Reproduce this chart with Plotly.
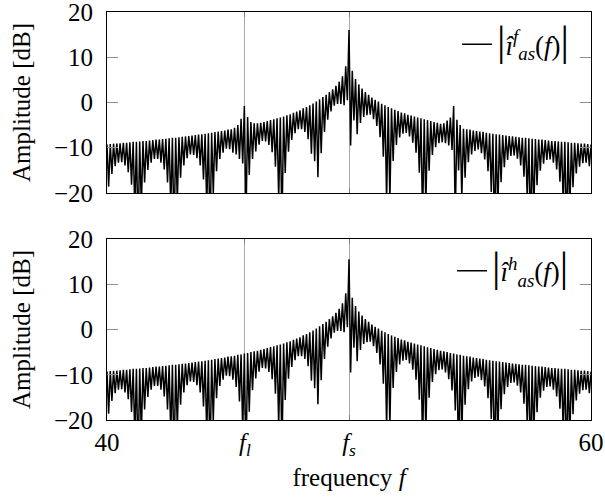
import numpy as np
import plotly.graph_objects as go

# frequency bins of the plotted spectrum
f_start, f_stop, n_bins = 40.0, 60.0, 297
freq = np.linspace(f_start, f_stop, n_bins)

f_l, f_s = 45.7, 50.0
x_tick_vals = [40, f_l, f_s, 60]
x_tick_text = ["40", "<i>f</i><sub><i>l</i></sub>", "<i>f</i><sub><i>s</i></sub>", "60"]
y_tick_vals = [-20, -10, 0, 10, 20]
y_tick_text = ["\u221220", "\u221210", "0", "10", "20"]

# upper (local maxima) and lower (local minima) samples of |i_as^h(f)| in dB
peaks_h = [
    -9.3, -9.2, -9.1, -9.1, -9.0, -8.9, -8.9, -8.8, -8.7, -8.7,
    -8.6, -8.5, -8.5, -8.4, -8.3, -8.2, -8.2, -8.1, -8.0, -7.9,
    -7.8, -7.8, -7.7, -7.6, -7.5, -7.4, -7.3, -7.2, -7.1, -7.0,
    -6.9, -6.8, -6.7, -6.5, -6.4, -6.3, -6.2, -6.0, -5.9, -5.8,
    -5.6, -5.5, -5.3, -5.2, -5.0, -4.8, -4.7, -4.5, -4.3, -4.1,
    -3.9, -3.7, -3.5, -3.3, -3.1, -2.8, -2.6, -2.3, -2.0, -1.7,
    -1.3, -1.0, -0.6, -0.2, 0.2, 0.7, 1.2, 1.7, 2.3, 2.9,
    3.7, 4.6, 5.8, 8.0, 15.5,
    7.0, 5.2, 4.0, 3.1, 2.3, 1.7, 1.1, 0.6, 0.2, -0.3,
    -0.6, -1.0, -1.3, -1.6, -1.9, -2.2, -2.4, -2.7, -2.9, -3.1,
    -3.3, -3.5, -3.7, -3.9, -4.1, -4.3, -4.5, -4.7, -4.8, -5.0,
    -5.2, -5.3, -5.5, -5.6, -5.8, -5.9, -6.0, -6.2, -6.3, -6.4,
    -6.5, -6.7, -6.8, -6.9, -7.0, -7.1, -7.2, -7.3, -7.4, -7.5,
    -7.6, -7.7, -7.8, -7.8, -7.9, -8.0, -8.1, -8.2, -8.2, -8.3,
    -8.4, -8.5, -8.5, -8.6, -8.7, -8.7, -8.8, -8.9, -8.9, -9.0,
    -9.1, -9.1, -9.2, -9.3,
]
dips_h = [
    -18.6, -15.8, -14.1, -13.3, -13.2, -13.9, -15.4, -18.2, -23.9, -30.0,
    -23.3, -17.7, -14.9, -13.3, -12.5, -12.5, -13.3, -14.8, -17.7, -23.7,
    -30.0, -21.9, -16.6, -13.9, -12.3, -11.5, -11.6, -12.3, -13.9, -17.0,
    -23.4, -30.0, -20.2, -15.2, -12.5, -11.1, -10.2, -10.3, -11.1, -12.7,
    -15.9, -22.7, -30.0, -18.2, -13.4, -10.8, -9.3, -8.5, -8.6, -9.4,
    -11.0, -14.2, -21.5, -28.2, -15.6, -10.9, -8.3, -6.8, -5.9, -5.9,
    -6.5, -8.1, -11.3, -13.0, -16.5, -11.2, -6.5, -3.8, -2.0, -0.7,
    -0.3, -0.3, -0.6, 0.5, -9.5, -4.0, -7.0, -4.5, -3.2, -2.8,
    -2.7, -3.7, -5.2, -7.7, -12.0, -22.0, -21.7, -12.9, -9.4, -7.7,
    -6.9, -6.7, -7.5, -8.9, -11.1, -15.5, -26.2, -23.2, -15.1, -11.6,
    -9.9, -9.0, -8.8, -9.5, -11.0, -13.5, -17.9, -29.8, -24.2, -16.6,
    -13.2, -11.5, -10.7, -10.4, -11.2, -12.6, -15.2, -19.8, -30.0, -24.7,
    -17.6, -14.3, -12.7, -11.8, -11.7, -12.4, -13.9, -16.4, -21.3, -30.0,
    -24.9, -18.3, -15.1, -13.5, -12.7, -12.6, -13.3, -14.8, -17.5, -22.6,
    -30.0, -25.0, -18.7, -15.7, -14.2, -13.4, -13.3, -14.1,
]

# upper and lower samples of |i_as^f(f)| in dB (with side bands)
peaks_f = [
    -9.3, -9.2, -9.1, -9.1, -9.0, -8.9, -8.9, -8.8, -8.7, -8.7,
    -8.6, -8.5, -8.5, -8.4, -8.3, -8.2, -8.2, -8.1, -8.0, -7.9,
    -7.8, -7.8, -7.7, -7.6, -7.5, -7.4, -7.3, -7.2, -7.1, -7.0,
    -6.9, -6.8, -6.7, -6.5, -6.4, -6.3, -6.2, -6.0, -5.9, -5.6,
    -5.0, -3.6, -0.8, -3.2, -4.3, -4.6, -4.6, -4.5, -4.3, -4.1,
    -3.9, -3.7, -3.5, -3.3, -3.1, -2.8, -2.6, -2.3, -2.0, -1.7,
    -1.3, -1.0, -0.6, -0.2, 0.2, 0.7, 1.2, 1.7, 2.3, 2.9,
    3.7, 4.6, 5.8, 8.0, 16.0,
    7.0, 5.2, 4.0, 3.1, 2.3, 1.7, 1.1, 0.6, 0.2, -0.3,
    -0.6, -1.0, -1.3, -1.6, -1.9, -2.2, -2.4, -2.7, -2.9, -3.1,
    -3.3, -3.5, -3.7, -3.9, -4.1, -4.3, -4.5, -4.7, -4.6, -4.0,
    -3.3, -0.8, -3.8, -5.0, -5.8, -5.9, -6.0, -6.2, -6.3, -6.4,
    -6.5, -6.7, -6.8, -6.9, -7.0, -7.1, -7.2, -7.3, -7.4, -7.5,
    -7.6, -7.7, -7.8, -7.8, -7.9, -8.0, -8.1, -8.2, -8.2, -8.3,
    -8.4, -8.5, -8.5, -8.6, -8.7, -8.7, -8.8, -8.9, -8.9, -9.0,
    -9.1, -9.1, -9.2, -9.3,
]
dips_f = [
    -18.6, -15.8, -14.1, -13.3, -13.2, -13.9, -15.4, -18.2, -23.9, -30.0,
    -23.3, -17.7, -14.9, -13.3, -12.5, -12.5, -13.3, -14.8, -17.7, -23.7,
    -30.0, -21.9, -16.6, -13.9, -12.3, -11.5, -11.6, -12.3, -13.9, -17.0,
    -23.4, -30.0, -20.2, -15.2, -12.5, -11.1, -10.2, -10.3, -11.1, -11.5,
    -12.5, -13.5, -26.0, -16.0, -12.5, -10.8, -9.3, -8.5, -8.6, -9.4,
    -11.0, -14.2, -21.5, -28.2, -15.6, -10.9, -8.3, -6.8, -5.9, -5.9,
    -6.5, -8.1, -11.3, -13.0, -16.5, -11.2, -6.5, -3.8, -2.0, -0.7,
    -0.3, -0.3, -0.6, 0.5, -9.5, -4.0, -7.0, -4.5, -3.2, -2.8,
    -2.7, -3.7, -5.2, -7.7, -12.0, -22.0, -21.7, -12.9, -9.4, -7.7,
    -6.9, -6.7, -7.5, -8.9, -11.1, -15.5, -26.2, -23.2, -15.1, -11.6,
    -9.9, -9.0, -8.8, -9.0, -9.5, -10.5, -26.0, -15.0, -21.0, -16.6,
    -13.2, -11.5, -10.7, -10.4, -11.2, -12.6, -15.2, -19.8, -30.0, -24.7,
    -17.6, -14.3, -12.7, -11.8, -11.7, -12.4, -13.9, -16.4, -21.3, -30.0,
    -24.9, -18.3, -15.1, -13.5, -12.7, -12.6, -13.3, -14.8, -17.5, -22.6,
    -30.0, -25.0, -18.7, -15.7, -14.2, -13.4, -13.3, -14.1,
]


def interleave(peaks, dips):
    out = []
    for p, d in zip(peaks, dips):
        out.extend([p, d])
    out.append(peaks[-1])
    return out


amp_f = interleave(peaks_f, dips_f)
amp_h = interleave(peaks_h, dips_h)

FONT = "Liberation Serif"
BAR = "<span style='font-size:42px'>|</span>"
name_f = BAR + "<i>\u00ee</i><sup><i>f</i></sup><sub><i>as</i></sub>(<i>f</i>)" + BAR
name_h = BAR + "<i>\u00ee</i><sup><i>h</i></sup><sub><i>as</i></sub>(<i>f</i>)" + BAR

fig = go.Figure()
fig.add_trace(go.Scatter(x=freq, y=amp_f, mode="lines", name=name_f,
                         line=dict(color="black", width=1.5),
                         xaxis="x", yaxis="y", legend="legend"))
fig.add_trace(go.Scatter(x=freq, y=amp_h, mode="lines", name=name_h,
                         line=dict(color="black", width=1.5),
                         xaxis="x2", yaxis="y2", legend="legend2"))

common_x = dict(range=[40, 60], tickmode="array", tickvals=x_tick_vals,
                ticks="inside", ticklen=5, tickcolor="#808080",
                showline=True, linecolor="black", linewidth=1, mirror="ticks",
                showgrid=True, gridcolor="#a8a8a8", gridwidth=1, zeroline=False,
                automargin=False, ticklabeloverflow="allow")
common_y = dict(range=[-20, 20], tickmode="array", tickvals=y_tick_vals,
                ticktext=y_tick_text, ticks="inside", ticklen=11,
                tickcolor="#909090", showline=True, linecolor="black",
                linewidth=1, mirror="ticks", showgrid=False, zeroline=False,
                ticklabelstandoff=8, automargin=False, ticklabeloverflow="allow",
                title=dict(text="Amplitude [dB]", standoff=16,
                           font=dict(size=25, family=FONT, color="black")))

fig.update_layout(
    width=605, height=501,
    margin=dict(l=107, r=14, t=12, b=81, autoexpand=False),
    paper_bgcolor="white", plot_bgcolor="white",
    font=dict(family=FONT, size=25, color="black"),
    xaxis=dict(domain=[0, 1], anchor="y", showticklabels=False, **common_x),
    yaxis=dict(domain=[0.5564, 1], anchor="x", **common_y),
    xaxis2=dict(domain=[0, 1], anchor="y2", ticktext=x_tick_text,
                title=dict(text="frequency <i>f</i>", standoff=9,
                           font=dict(size=25, family=FONT, color="black")),
                **common_x),
    yaxis2=dict(domain=[0, 0.4436], anchor="x2", **common_y),
    legend=dict(x=0.965, y=0.92, xanchor="right", yanchor="middle",
                bgcolor="rgba(0,0,0,0)", font=dict(size=27, family=FONT)),
    legend2=dict(x=0.965, y=0.365, xanchor="right", yanchor="middle",
                 bgcolor="rgba(0,0,0,0)", font=dict(size=27, family=FONT)),
    showlegend=True,
)

fig.write_html("out.html",
               config={"displayModeBar": False},
               post_script="document.body.style.margin='0px';"
                           "document.body.style.overflow='hidden';")
